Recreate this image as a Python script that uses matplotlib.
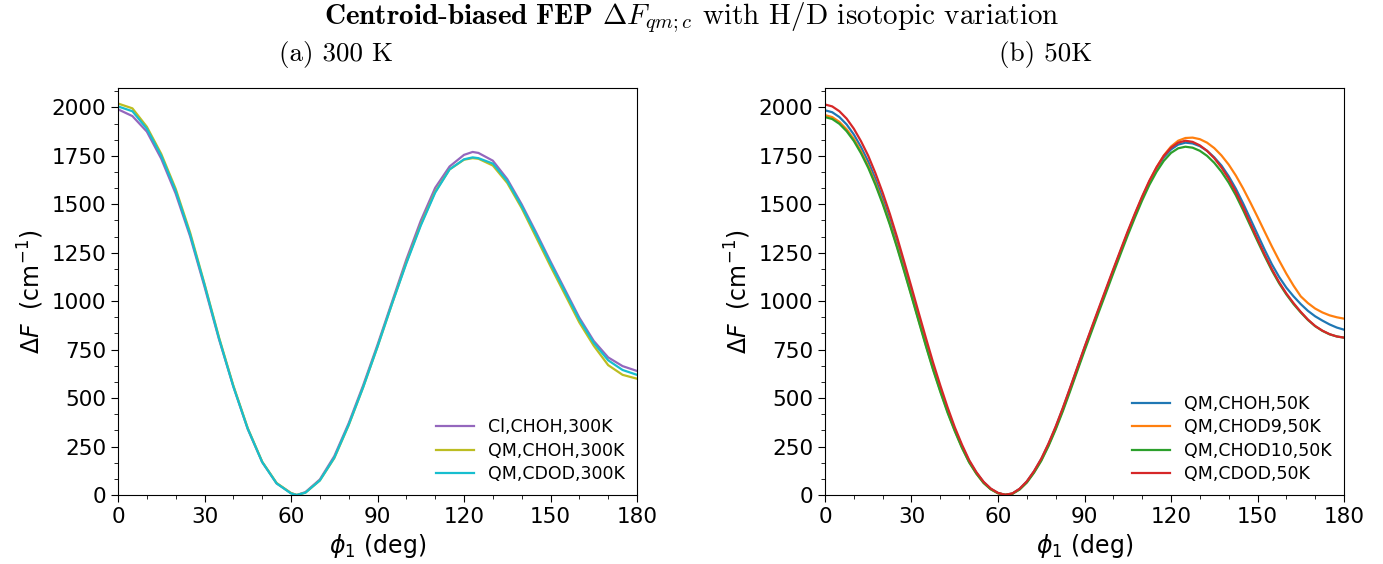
import numpy as np
import matplotlib
matplotlib.use('Agg')
import matplotlib.pyplot as plt
from matplotlib.ticker import MultipleLocator

plt.rcParams['mathtext.fontset'] = 'dejavusans'

# ---- (a) 300 K ----
phi_a = [0, 5, 10, 15, 20, 25, 30, 35, 40, 45, 50, 55, 60, 62, 65, 70, 75, 80, 85, 90,
         95, 100, 105, 110, 115, 120, 123, 125, 130, 135, 140, 145, 150, 155, 160,
         165, 170, 175, 180]
cl_choh_300 = [1990, 1955, 1875, 1735, 1555, 1335, 1075, 805, 560, 340, 170, 60, 10, 0, 15,
               80, 200, 370, 565, 775, 995, 1215, 1415, 1585, 1695, 1755, 1770, 1765, 1725,
               1630, 1500, 1355, 1205, 1060, 915, 795, 710, 665, 640]
qm_choh_300 = [2020, 1995, 1900, 1760, 1580, 1355, 1090, 815, 565, 345, 172, 62, 10, 0, 12,
               75, 190, 360, 555, 765, 985, 1200, 1395, 1565, 1680, 1730, 1738, 1735, 1700,
               1610, 1480, 1330, 1180, 1035, 890, 770, 670, 620, 600]
qm_cdod_300 = [2005, 1980, 1890, 1750, 1570, 1345, 1085, 810, 560, 342, 170, 60, 8, 0, 12,
               75, 192, 362, 555, 765, 985, 1195, 1390, 1560, 1680, 1732, 1742, 1738, 1710,
               1620, 1490, 1345, 1195, 1050, 905, 785, 695, 645, 620]

# ---- (b) 50 K ----  (phi = 0, 2.5, ..., 180)
phi_b = [i * 2.5 for i in range(73)]
qm_choh_50 = [1985, 1975, 1950, 1912, 1860, 1795, 1720, 1630, 1530, 1420, 1300, 1178, 1050,
              920, 790, 665, 550, 440, 340, 252, 175, 115, 67, 32, 10, 1, 8, 32, 70, 122,
              185, 262, 350, 447, 550, 655, 760, 860, 960, 1060, 1160, 1258, 1355, 1447,
              1535, 1615, 1685, 1742, 1783, 1808, 1818, 1814, 1800, 1776, 1742, 1700, 1645,
              1580, 1505, 1425, 1345, 1265, 1190, 1125, 1070, 1025, 985, 950, 922, 900,
              880, 864, 853]
qm_chod9_50 = [1960, 1950, 1925, 1887, 1837, 1773, 1697, 1609, 1510, 1401, 1283, 1158, 1030,
               901, 773, 650, 537, 430, 333, 246, 170, 111, 63, 30, 9, 1, 7, 30, 67, 118,
               180, 256, 343, 440, 543, 648, 753, 855, 956, 1056, 1156, 1255, 1352, 1446,
               1535, 1617, 1690, 1752, 1798, 1828, 1842, 1844, 1836, 1818, 1790, 1752, 1705,
               1648, 1582, 1510, 1435, 1358, 1282, 1210, 1142, 1080, 1025, 990, 962, 942,
               927, 917, 910]
qm_chod10_50 = [1950, 1940, 1915, 1877, 1827, 1763, 1688, 1600, 1502, 1394, 1276, 1152, 1025,
                896, 768, 645, 532, 425, 330, 243, 168, 110, 62, 29, 9, 1, 6, 28, 64, 115,
                176, 252, 338, 433, 535, 640, 744, 845, 946, 1045, 1145, 1243, 1340, 1432,
                1520, 1600, 1668, 1724, 1765, 1789, 1797, 1792, 1776, 1750, 1714, 1668, 1612,
                1546, 1470, 1390, 1310, 1232, 1158, 1092, 1035, 985, 942, 903, 871, 847,
                829, 818, 812]
qm_cdod_50 = [2015, 2005, 1980, 1942, 1890, 1825, 1750, 1660, 1560, 1450, 1330, 1202, 1072,
              940, 810, 683, 565, 453, 350, 260, 180, 118, 68, 33, 11, 1, 8, 32, 70, 123,
              187, 265, 353, 450, 553, 658, 763, 865, 966, 1066, 1166, 1264, 1361, 1453,
              1541, 1622, 1692, 1750, 1792, 1818, 1828, 1822, 1804, 1776, 1738, 1690, 1632,
              1563, 1485, 1402, 1320, 1240, 1165, 1098, 1040, 990, 945, 905, 872, 848,
              830, 818, 812]

fig = plt.figure(figsize=(13.83, 5.64), dpi=100)
ax1 = fig.add_axes([118 / 1383, 69 / 564, 519 / 1383, 407 / 564])
ax2 = fig.add_axes([825 / 1383, 69 / 564, 519 / 1383, 407 / 564])

ax1.plot(phi_a, cl_choh_300, color='tab:purple', lw=1.6, label='Cl,CHOH,300K')
ax1.plot(phi_a, qm_choh_300, color='tab:olive', lw=1.6, label='QM,CHOH,300K')
ax1.plot(phi_a, qm_cdod_300, color='tab:cyan', lw=1.6, label='QM,CDOD,300K')

ax2.plot(phi_b, qm_choh_50, color='tab:blue', lw=1.6, label='QM,CHOH,50K')
ax2.plot(phi_b, qm_chod9_50, color='tab:orange', lw=1.6, label='QM,CHOD9,50K')
ax2.plot(phi_b, qm_chod10_50, color='tab:green', lw=1.6, label='QM,CHOD10,50K')
ax2.plot(phi_b, qm_cdod_50, color='tab:red', lw=1.6, label='QM,CDOD,50K')

for ax in (ax1, ax2):
    ax.set_xlim(0, 180)
    ax.set_ylim(0, 2100)
    ax.xaxis.set_major_locator(MultipleLocator(30))
    ax.xaxis.set_minor_locator(MultipleLocator(10))
    ax.yaxis.set_major_locator(MultipleLocator(250))
    ax.yaxis.set_minor_locator(MultipleLocator(250 / 3))
    ax.tick_params(which='major', labelsize=15.5, length=5)
    ax.tick_params(which='minor', length=3)
    ax.set_xlabel(r'$\phi_1$ (deg)', fontsize=17)
    ax.set_ylabel(r'$\Delta F$  (cm$^{-1}$)', fontsize=17)
    ax.legend(loc='lower right', frameon=False, fontsize=12.5, handlelength=2.2,
              labelspacing=0.3, borderaxespad=0.3)

fig.text(0.5, 1 - 18 / 564,
         r'$\mathbf{Centroid\text{-}biased\ FEP}$ $\Delta F_{qm;c}$ with H/D isotopic variation',
         ha='center', va='center', fontsize=21, family='cmr10', math_fontfamily='cm')
fig.text(336 / 1383, 1 - 55 / 564, '(a) 300 K', ha='center', va='center', fontsize=19.5, family='cmr10')
fig.text(1046 / 1383, 1 - 55 / 564, '(b) 50K', ha='center', va='center', fontsize=19.5, family='cmr10')

fig.savefig('out.png', dpi=100)
